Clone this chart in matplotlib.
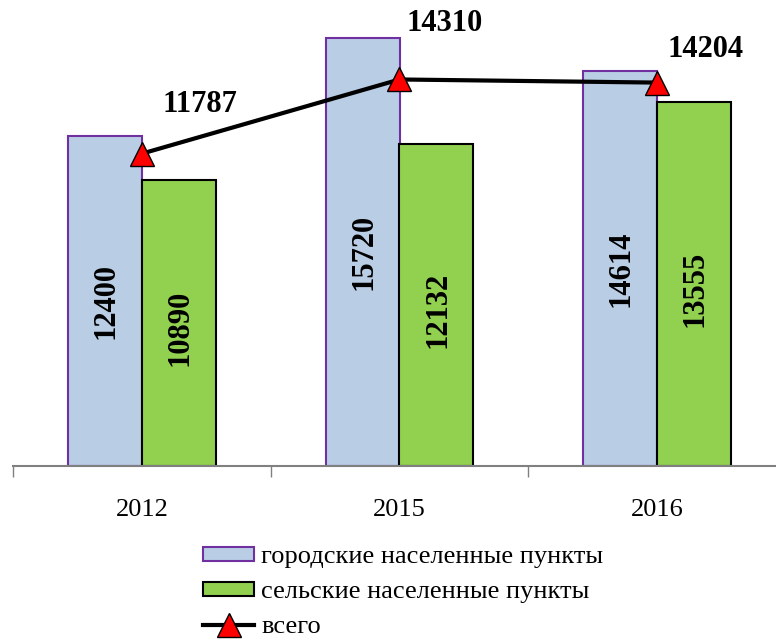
import numpy as np
import matplotlib.pyplot as plt

years = ['2012', '2015', '2016']
urban = [12400, 15720, 14614]
rural = [10890, 12132, 13555]
total = [11787, 14310, 14204]

labels = ['городские населенные пункты', 'сельские населенные пункты', 'всего']

plt.rcParams['font.family'] = ['Liberation Serif', 'DejaVu Serif']

fig = plt.figure(figsize=(7.76, 6.39), dpi=100)
ax = fig.add_axes([13/776, 173/639, 773/776, 466/639])

x = np.arange(len(years))
w = 0.287
ymin = 1163

b1 = ax.bar(x - w/2, np.array(urban) - ymin, w, bottom=ymin, color='#B9CDE5',
            edgecolor='#7030A0', linewidth=1.5, label=labels[0])
b2 = ax.bar(x + w/2, np.array(rural) - ymin, w, bottom=ymin, color='#92D050',
            edgecolor='black', linewidth=1.5, label=labels[1])
ln, = ax.plot(x, total, color='black', linewidth=3, marker='^', markersize=17,
              markerfacecolor='red', markeredgecolor='black', markeredgewidth=1,
              label=labels[2], zorder=5)

# подписи внутри столбцов
for i in range(len(years)):
    ax.text(x[i] - w/2 + 0.005, (urban[i] + ymin) / 2, str(urban[i]), rotation=90,
            ha='center', va='center', fontsize=22, fontweight='bold')
    ax.text(x[i] + w/2 + 0.005, (rural[i] + ymin) / 2 - 170, str(rural[i]), rotation=90,
            ha='center', va='center', fontsize=22, fontweight='bold')

# подписи над линией
offs = [(58, 49), (45, 56), (48, 33)]
for i in range(len(years)):
    ax.annotate(str(total[i]), (x[i], total[i]), xytext=offs[i], textcoords='offset pixels',
                ha='center', va='center', fontsize=22, fontweight='bold')

ax.set_xlim(-0.5, 2.5)
ax.set_ylim(ymin, 17013)
ax.set_xticks([-0.5, 0.5, 1.5, 2.5])
ax.set_xticklabels([])
ax.set_xticks(x, minor=True)
ax.set_xticklabels(years, minor=True, fontsize=19)
ax.tick_params(axis='x', which='major', length=8, width=1, color='#808080', direction='out')
ax.tick_params(axis='x', which='minor', length=0, pad=23.5)
ax.set_yticks([])
for s in ['top', 'right', 'left']:
    ax.spines[s].set_visible(False)
ax.spines['bottom'].set_color('#808080')
ax.spines['bottom'].set_linewidth(1.5)

fig.legend(handles=[b1, b2, ln], loc='upper left', bbox_to_anchor=(203/776, 1 - 546/639),
           frameon=False, fontsize=19, handlelength=1.95, handleheight=0.45,
           handletextpad=0.25, labelspacing=0.5, borderpad=0, borderaxespad=0)

fig.savefig('out.png', dpi=100)
